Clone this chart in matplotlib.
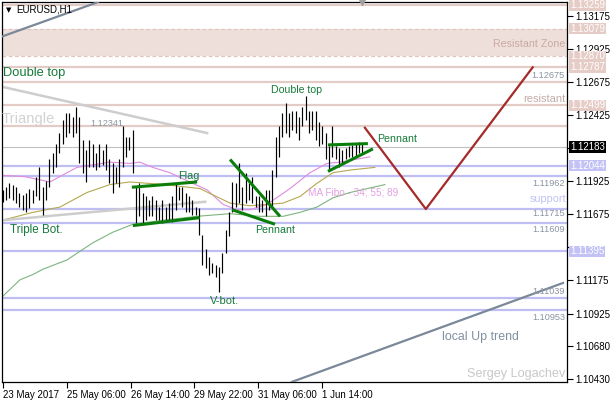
import matplotlib
matplotlib.use("Agg")
import matplotlib.pyplot as plt

plt.rcParams['font.family'] = ['Liberation Sans', 'DejaVu Sans']

# ---------------- data ----------------
highs = [1.1186, 1.1188, 1.1191, 1.1190, 1.1188, 1.1184, 1.1182, 1.1184, 1.1187, 1.1186,
         1.1196, 1.1203, 1.1188, 1.1193, 1.1209, 1.1214, 1.1221, 1.1229, 1.1239, 1.1244,
         1.1244, 1.1241, 1.1249, 1.1241, 1.1224, 1.1216, 1.1224, 1.1221, 1.1214, 1.1221,
         1.1216, 1.1221, 1.1209, 1.1206, 1.1203, 1.1209, 1.1234, 1.1226, 1.1226, 1.1231,
         1.1188, 1.1191, 1.1184, 1.1181, 1.1178, 1.1181, 1.1178, 1.1173, 1.1178, 1.1173,
         1.1176, 1.1181, 1.1191, 1.1188, 1.1188, 1.1184, 1.1181, 1.1178, 1.1173, 1.1172,
         1.1152, 1.1141, 1.1135, 1.1131, 1.1129, 1.1128, 1.1138, 1.1156, 1.1169, 1.1192,
         1.1191, 1.1206, 1.1188, 1.1199, 1.1191, 1.1196, 1.1181, 1.1181, 1.1178, 1.1186,
         1.1186, 1.1201, 1.1226, 1.1234, 1.1244, 1.1252, 1.1244, 1.1246, 1.1246, 1.1241,
         1.1249, 1.1257, 1.1246, 1.1246, 1.1246, 1.1237, 1.1234, 1.1229, 1.1219, 1.1234,
         1.1219, 1.1218, 1.1216, 1.1218, 1.1219, 1.1220, 1.1221, 1.1222, 1.1221]
lows = [1.1177, 1.1178, 1.1180, 1.1178, 1.1176, 1.1173, 1.1171, 1.1169, 1.1172, 1.1176,
        1.1181, 1.1178, 1.1167, 1.1178, 1.1188, 1.1199, 1.1203, 1.1214, 1.1221, 1.1226,
        1.1229, 1.1226, 1.1229, 1.1206, 1.1199, 1.1192, 1.1203, 1.1203, 1.1201, 1.1203,
        1.1205, 1.1201, 1.1191, 1.1184, 1.1191, 1.1188, 1.1203, 1.1211, 1.1216, 1.1199,
        1.1161, 1.1166, 1.1161, 1.1163, 1.1166, 1.1166, 1.1163, 1.1163, 1.1161, 1.1162,
        1.1163, 1.1162, 1.1171, 1.1178, 1.1173, 1.1169, 1.1169, 1.1167, 1.1167, 1.1152,
        1.1129, 1.1127, 1.1122, 1.1123, 1.1120, 1.1109, 1.1123, 1.1138, 1.1151, 1.1169,
        1.1173, 1.1176, 1.1171, 1.1176, 1.1178, 1.1176, 1.1173, 1.1169, 1.1169, 1.1166,
        1.1171, 1.1173, 1.1196, 1.1211, 1.1226, 1.1229, 1.1226, 1.1231, 1.1229, 1.1224,
        1.1234, 1.1239, 1.1229, 1.1231, 1.1224, 1.1219, 1.1221, 1.1209, 1.1201, 1.1211,
        1.1209, 1.1203, 1.1206, 1.1209, 1.1211, 1.1211, 1.1212, 1.1214, 1.1214]

time_labels = ["23 May 2017", "25 May 06:00", "26 May 14:00", "29 May 22:00",
               "31 May 06:00", "1 Jun 14:00"]
time_pos = [0, 19.2, 38.4, 57.6, 76.8, 96.0]

# tick labels (1.12175 and 1.11425 are hidden behind the price boxes in the reference)
ytick_vals = [1.13175, 1.12925, 1.12675, 1.12425, 1.12175, 1.11925, 1.11675,
              1.11425, 1.11175, 1.10925, 1.10680, 1.10430]
ytick_labels = ["1.13175", "1.12925", "1.12675", "1.12425", "", "1.11925",
                "1.11675", "", "1.11175", "1.10925", "1.10680", "1.10430"]

# moving averages (bar index, price)
ma34_x = [-0.2, 6.7, 14.2, 22.3, 32.2, 38.2, 41.2, 45.1, 50.2, 56.2, 61.4, 66.2, 70.4,
          74.3, 79.4, 86.3, 92.3, 97.4, 101.3, 110.3]
ma34_y = [1.1197, 1.1196, 1.1192, 1.1203, 1.1207, 1.1206, 1.1207, 1.1203, 1.1199, 1.1192,
          1.1186, 1.1175, 1.1171, 1.1171, 1.1175, 1.1187, 1.1199, 1.1206, 1.1207, 1.1211]
ma55_x = [-0.2, 9.1, 17.2, 25.3, 32.2, 38.2, 48.7, 59.2, 68.3, 74.3, 84.2, 89.3, 94.4,
          99.2, 104.3, 111.8]
ma55_y = [1.1163, 1.1169, 1.1173, 1.1184, 1.1190, 1.1192, 1.1190, 1.1187, 1.1176, 1.1174,
          1.1176, 1.1181, 1.1191, 1.1199, 1.1201, 1.1203]
ma89_x = [-0.2, 5.2, 9.1, 12.1, 19.3, 27.1, 33.1, 39.1, 48.1, 58.3, 68.3, 77.3, 84.2,
          89.3, 94.4, 99.2, 104.3, 114.8]
ma89_y = [1.1105, 1.1118, 1.1122, 1.1126, 1.1133, 1.1146, 1.1154, 1.1160, 1.1163, 1.1166,
          1.1168, 1.1166, 1.1166, 1.1169, 1.1173, 1.1180, 1.1184, 1.1190]

# horizontal levels
pink_levels = [1.13259, 1.12787, 1.12675, 1.12499, 1.12341]
zone = (1.12870, 1.13079)
blue_levels = [1.12044, 1.11962, 1.11715, 1.11609, 1.11395, 1.11039, 1.10953]
last_price = 1.12183
pink_boxes = [1.13259, 1.13079, 1.12870, 1.12787, 1.12499]
blue_boxes = [1.12044, 1.11395]

# drawn objects (bar index, price)
channel_top = ([-0.2, 28.6], [1.1302, 1.1328])
channel_bot = ([86.9, 168.3], [1.10408, 1.11156])
tri_upper = ([-0.2, 61.4], [1.1264, 1.1229])
tri_lower = ([-0.2, 60.8], [1.1163, 1.1177])
flag_upper = ([38.8, 58.4], [1.1188, 1.1192])
flag_lower = ([39.1, 59.2], [1.1159, 1.1165])
pen1_upper = ([68.3, 83.3], [1.1209, 1.1166])
pen1_lower = ([68.9, 81.8], [1.1171, 1.1160])
pen2_upper = ([97.7, 109.7], [1.1220, 1.1221])
pen2_lower = ([97.7, 111.2], [1.1200, 1.1217])
forecast = ([108.8, 127.1, 159.2], [1.1233, 1.11715, 1.12787])

# ---------------- figure ----------------
W, H = 610, 400
fig = plt.figure(figsize=(W / 100, H / 100), dpi=100)
ax = fig.add_axes([2 / W, 18 / H, 565 / W, 380 / H])
ax.set_xlim(-0.2, 169.5)
ax.set_ylim(1.10407, 1.13281)

PINK = '#E4CCC6'
BLUE = '#BEBEF3'
GREEN_TXT = '#177A3A'
GRAYTXT = '#8A94A2'

# zone
ax.axhspan(zone[0], zone[1], color='#EFDFDB', lw=0, zorder=0)
for z in zone:
    ax.axhline(z, color='#E0C4BE', lw=0.9, ls=(0, (3, 2)), zorder=1)
for lv in pink_levels:
    ax.axhline(lv, color=PINK, lw=1.6, zorder=1)
for lv in blue_levels:
    ax.axhline(lv, color=BLUE, lw=1.6, zorder=1)
ax.axhline(last_price, color='#C0C0C0', lw=0.8, zorder=1)

# MAs
ax.plot(ma34_x, ma34_y, color='#E08AE0', lw=0.8, zorder=2)
ax.plot(ma55_x, ma55_y, color='#B5A84E', lw=0.8, zorder=2)
ax.plot(ma89_x, ma89_y, color='#7DB47D', lw=0.8, zorder=2)

# triangle lines
ax.plot(*tri_upper, color='#CDCDCD', lw=1.8, zorder=2)
ax.plot(*tri_lower, color='#CDCDCD', lw=1.8, zorder=2)

# bars
idx = list(range(len(highs)))
ax.vlines(idx, lows, highs, color='black', lw=0.85, zorder=3)

# channel
ax.plot(*channel_top, color='#7A8899', lw=1.6, zorder=4)
ax.plot(*channel_bot, color='#7A8899', lw=1.6, zorder=4)

# patterns
for seg in (flag_upper, flag_lower, pen1_upper, pen1_lower, pen2_upper, pen2_lower):
    ax.plot(*seg, color='#0A7D0A', lw=2.2, zorder=5, solid_capstyle='butt')
ax.plot(*forecast, color='#A52A2A', lw=1.6, zorder=5)

# shift marker
ax.plot([108], [1.13281], marker='v', color='#A0A0A0', ms=5, clip_on=False, zorder=6)

# axes styling
for s in ax.spines.values():
    s.set_color('black')
    s.set_linewidth(0.9)
ax.yaxis.tick_right()
ax.set_yticks(ytick_vals)
ax.set_yticklabels(ytick_labels)
ax.set_xticks(time_pos)
ax.set_xticklabels(time_labels, ha='left')
ax.tick_params(axis='y', direction='out', length=4, width=0.8, labelsize=7, pad=2,
               colors='black')
ax.tick_params(axis='x', direction='out', length=4, width=0.8, labelsize=7, pad=1.5,
               colors='black')

# right side highlighted price labels
def price_box(v, fc, size=7):
    ax.text(1.0055, v, f"{v:.5f}", transform=ax.get_yaxis_transform(), ha='left',
            va='center', fontsize=size, color='white', clip_on=False, zorder=10,
            bbox=dict(boxstyle='square,pad=0.08', fc=fc, ec='none'))

for v in pink_boxes:
    price_box(v, '#E6CCC6')
for v in blue_boxes:
    price_box(v, '#C2C2F6')
price_box(last_price, 'black')

# text annotations placed in pixel positions of the figure
def T(x, y, s, size, color, ha='left', **kw):
    fig.text(x / W, 1 - y / H, s, fontsize=size, color=color, ha=ha, va='center', **kw)

T(6, 10, "▼", 5, 'black', family=['DejaVu Sans'])
T(16, 10, "EURUSD,H1", 7, 'black')
T(565, 44, "Resistant Zone", 7.7, '#C9AAA3', ha='right')
T(3, 73, "Double top", 9.3, GREEN_TXT)
T(271, 90, "Double top", 7.6, GREEN_TXT)
T(565, 75, "1.12675", 6.6, GRAYTXT, ha='right')
T(565, 99, "resistant", 8, '#C4ACA8', ha='right')
T(2, 119, "Triangle", 10.6, '#D2D2D2')
T(90, 124, "1.12341", 6.6, GRAYTXT)
T(377, 139, "Pennant", 7.7, GREEN_TXT)
T(178, 176, "Flag", 7.8, GREEN_TXT)
T(565, 183, "1.11962", 6.6, GRAYTXT, ha='right')
T(308, 193, "MA Fibo - 34; 55; 89", 7.2, '#E2A0E2')
T(566, 199, "support", 7.8, '#C2C2F2', ha='right')
T(565, 214, "1.11715", 6.6, GRAYTXT, ha='right')
T(565, 229, "1.11609", 6.6, GRAYTXT, ha='right')
T(10, 230, "Triple Bot.", 8.4, GREEN_TXT)
T(255, 230, "Pennant", 7.7, GREEN_TXT)
T(565, 292, "1.11039", 6.6, GRAYTXT, ha='right')
T(210, 301, "V-bot.", 8, GREEN_TXT)
T(565, 317, "1.10953", 6.6, GRAYTXT, ha='right')
T(442, 337, "local Up trend", 8.9, '#8090A0')
T(565, 374, "Sergey Logachev", 9.1, '#C8C8C8', ha='right')

fig.savefig("out.png", dpi=100)
